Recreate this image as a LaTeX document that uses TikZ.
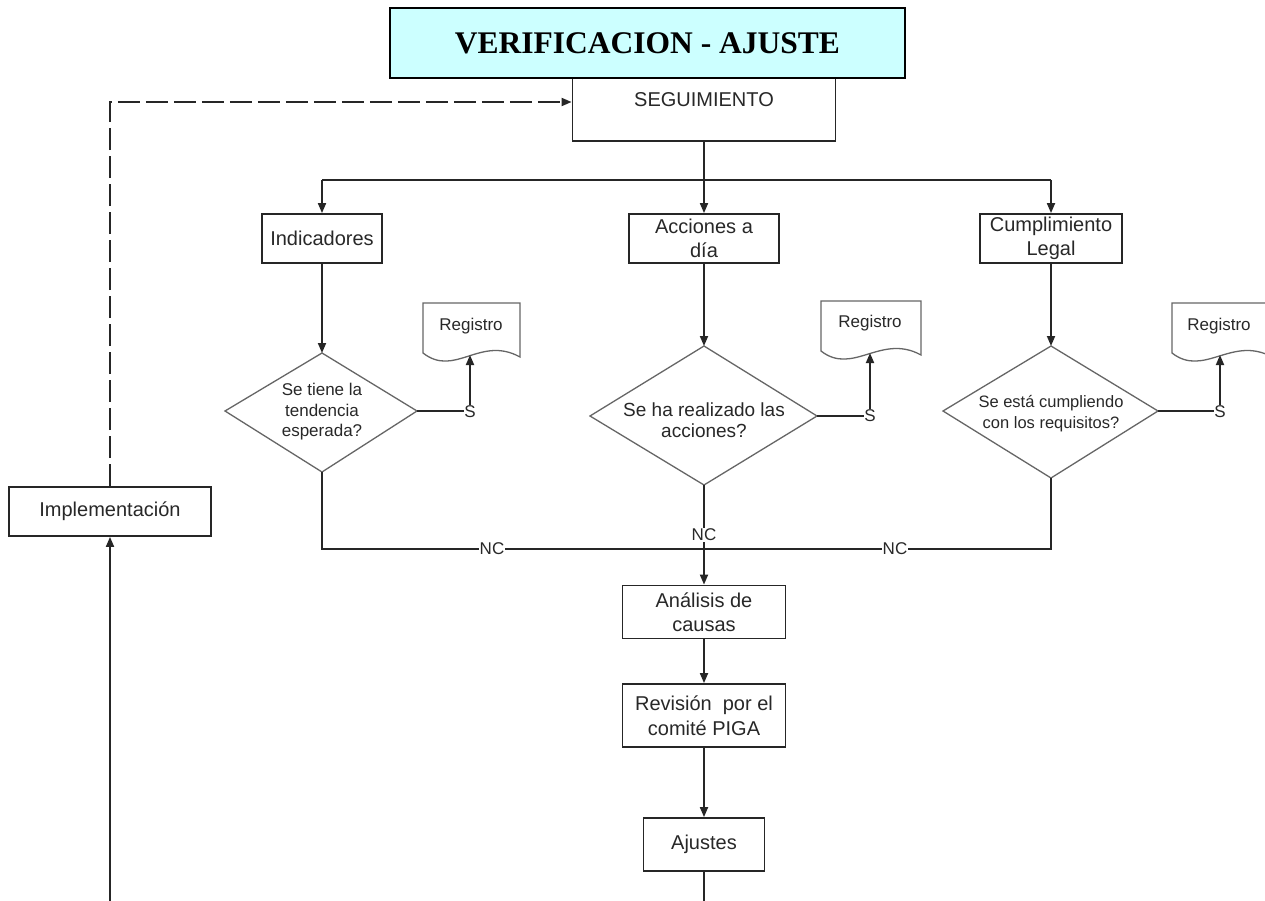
\documentclass[tikz,border=0pt]{standalone}
\usepackage{fontspec}
\setmainfont{Liberation Serif}
\newfontfamily\lsans{Liberation Sans}
\usetikzlibrary{arrows.meta}
\definecolor{titlecyan}{RGB}{204,255,255}
\definecolor{txtgray}{RGB}{40,40,40}
\begin{document}
\begin{tikzpicture}[x=1pt,y=-1pt,
  box/.style={draw=black!85,line width=1.8pt,fill=white,text=txtgray,align=center,inner sep=0pt,
    font=\lsans\fontsize{20}{24.5}\selectfont},
  conn/.style={line width=1.8pt,draw=black!85},
  arr/.style={conn,-{Triangle[length=10pt,width=8pt]}},
  dia/.style={draw=black!60,line width=1.3pt,fill=white},
  doc/.style={draw=black!60,line width=1.3pt,fill=white},
  dtxt/.style={text=txtgray,align=center,inner sep=0pt},
  regtxt/.style={text=txtgray,inner sep=0pt,font=\lsans\fontsize{17}{19}\selectfont},
  lbl/.style={text=txtgray,fill=white,inner sep=1pt,font=\lsans\fontsize{17}{19}\selectfont}]
\useasboundingbox (0,0) rectangle (1265,901);

% top boxes
\node[box,minimum width=263pt,minimum height=80pt,anchor=north,text height=46pt,text depth=34pt] (seg) at (704,60) {SEGUIMIENTO};
\node[draw=black,line width=1.8pt,fill=titlecyan,minimum width=515pt,minimum height=70pt,inner sep=0pt,
  font=\bfseries\fontsize{31.5}{36}\selectfont] (title) at (647.5,43) {VERIFICACION - AJUSTE};

\node[box,minimum width=120pt,minimum height=49pt] (ind) at (322,238.5) {Indicadores};
\node[box,minimum width=150pt,minimum height=49pt] (acc) at (704,238.5) {Acciones a\\día};
\node[box,minimum width=142pt,minimum height=49pt] (cum) at (1051,238.5) {Cumplimiento\\Legal};

% diamonds
\coordinate (d1t) at (322,353); \coordinate (d1r) at (417,411);
\coordinate (d1b) at (322,472); \coordinate (d1l) at (225,411);
\draw[dia] (d1t) -- (d1r) -- (d1b) -- (d1l) -- cycle;
\node[dtxt,font=\lsans\fontsize{17}{20.5}\selectfont] (q1) at (322,412) {Se tiene la\\tendencia\\esperada?};

\coordinate (d2t) at (704,346); \coordinate (d2r) at (817,416);
\coordinate (d2b) at (704,485); \coordinate (d2l) at (590,416);
\draw[dia] (d2t) -- (d2r) -- (d2b) -- (d2l) -- cycle;
\node[dtxt,font=\lsans\fontsize{19}{21}\selectfont] (q2) at (704,420) {Se ha realizado las\\acciones?};

\coordinate (d3t) at (1051,346); \coordinate (d3r) at (1158,411);
\coordinate (d3b) at (1051,478); \coordinate (d3l) at (943,411);
\draw[dia] (d3t) -- (d3r) -- (d3b) -- (d3l) -- cycle;
\node[dtxt,font=\lsans\fontsize{16.5}{21}\selectfont] (q3) at (1051,414) {Se está cumpliendo\\con los requisitos?};

% registro documents
\draw[doc] (423,303) -- (520,303) -- (520,357) .. controls (480,335) and (455,378) .. (423,353) -- cycle;
\node[regtxt] (reg1) at (471,326) {Registro};
\coordinate (reg1b) at (470,355);
\draw[doc] (821,301) -- (921,301) -- (921,355) .. controls (881,333) and (853,376) .. (821,351) -- cycle;
\node[regtxt] (reg2) at (870,323) {Registro};
\coordinate (reg2b) at (870,353);
\draw[doc] (1172,303) -- (1272,303) -- (1272,357) .. controls (1232,335) and (1204,378) .. (1172,353) -- cycle;
\node[regtxt] (reg3) at (1219,326) {Registro};
\coordinate (reg3b) at (1220,355);

% S labels
\node[lbl,fill=none,inner sep=0.5pt] (s1) at (470,412) {S};
\node[lbl,fill=none,inner sep=0.5pt] (s2) at (870,416) {S};
\node[lbl,fill=none,inner sep=0.5pt] (s3) at (1220,412) {S};

% lower boxes
\node[box,minimum width=163pt,minimum height=53pt] (ana) at (704,612) {Análisis de\\causas};
\node[box,minimum width=163pt,minimum height=63pt] (rev) at (704,715.5) {Revisión\ \ por el\\comité PIGA};
\node[box,minimum width=121pt,minimum height=53pt] (aju) at (704,844.5) {Ajustes};
\node[box,minimum width=202pt,minimum height=49pt] (imp) at (110,511.5) {Implementación};

% junctions
\coordinate (jL) at (322,180);
\coordinate (jM) at (704,180);
\coordinate (jR) at (1051,180);
\coordinate (jNC) at (704,549);
\coordinate (botM) at (704,901);
\coordinate (botL) at (110,901);

\node[lbl] (nc1) at (492,549) {NC};
\node[lbl] (nc2) at (704,535) {NC};
\node[lbl] (nc3) at (895,549) {NC};

% connectors
\draw[conn] (seg.south) -- (jM);
\draw[conn] (jL) -- (jR);
\draw[arr] (jL) -- (ind.north);
\draw[arr] (jM) -- (acc.north);
\draw[arr] (jR) -- (cum.north);

\draw[arr] (ind.south) -- (d1t);
\draw[arr] (acc.south) -- (d2t);
\draw[arr] (cum.south) -- (d3t);

\draw[conn] (d1r) -- (d1r -| s1.west);
\draw[conn] (d2r) -- (d2r -| s2.west);
\draw[conn] (d3r) -- (d3r -| s3.west);
\draw[arr] (s1.north) -- (reg1b);
\draw[arr] (s2.north) -- (reg2b);
\draw[arr] (s3.north) -- (reg3b);

\draw[conn] (d1b) |- (nc1.west);
\draw[conn] (nc1.east) -- (jNC);
\draw[conn] (d3b) |- (nc3.east);
\draw[conn] (nc3.west) -- (jNC);
\draw[conn] (d2b) -- (nc2.north);
\draw[conn] (nc2.south) -- (jNC);
\draw[arr] (jNC) -- (ana.north);

\draw[arr] (ana.south) -- (rev.north);
\draw[arr] (rev.south) -- (aju.north);
\draw[conn] (aju.south) -- (botM);

\draw[arr] (botL) -- (imp.south);
\draw[arr,dash pattern=on 22pt off 6pt] (imp.north) |- (seg.west |- 0,102);
\end{tikzpicture}
\end{document}
